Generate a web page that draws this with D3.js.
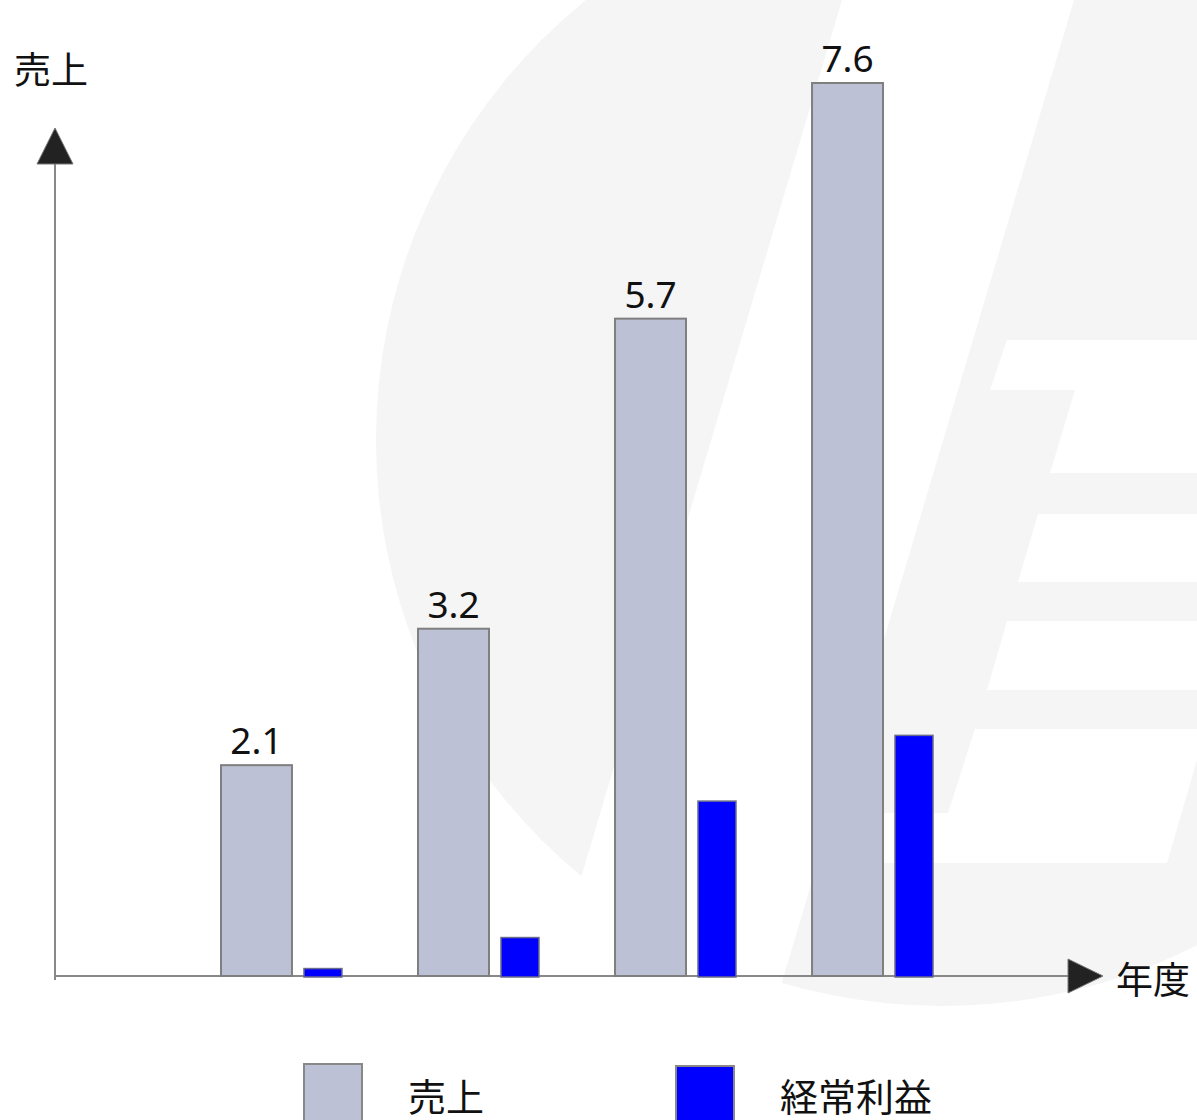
<!DOCTYPE html>
<html>
<head>
<meta charset="utf-8">
<script src="https://cdn.jsdelivr.net/npm/d3@7"></script>
<style>
  body { margin: 0; background: #fff; }
  .jp { font-family: "Noto Sans CJK JP", "Noto Sans", sans-serif; fill: #111; }
  .num { font-family: "Noto Sans", "DejaVu Sans", sans-serif; fill: #111; }
</style>
</head>
<body>
<div id="div"></div>
<script>
const w = 1197;
const h = 1120;

// data
const periods = ["FY1", "FY2", "FY3", "FY4"];
const sales = [2.1, 3.2, 5.7, 7.6];
const profit = [0.46, 0.71, 1.81, 2.34];
const seriesNames = ["売上", "経常利益"];
const colors = ["#bcc1d5", "#0000ff"];

const originX = 55;
const baseY = 976;

let svg = d3.select("#div")
    .append("svg")
    .attr("width", w)
    .attr("height", h);

// faint logo watermark in the background
const wm = svg.append("g").attr("class", "watermark");
wm.append("circle")
    .attr("cx", 942)
    .attr("cy", 440)
    .attr("r", 566)
    .attr("fill", "#f5f5f5");
const cuts = [
    [[848,-20],[1080,-20],[738,1130],[506,1130]],
    [[1007,340],[1210,340],[1210,473],[1050,473],[1075,390],[990,390]],
    [[1038,514],[1210,514],[1210,582],[1018,582]],
    [[1007,621],[1210,621],[1210,690],[987,690]],
    [[975,729],[1206,729],[1167,863],[815,863],[830,813],[948,813]]
];
wm.selectAll("polygon")
    .data(cuts)
    .enter()
    .append("polygon")
    .attr("points", d => d.map(p => p.join(",")).join(" "))
    .attr("fill", "#fff");

// scales
var x = d3.scaleBand()
    .domain(periods)
    .range([221, 933])
    .paddingInner(0.386)
    .paddingOuter(0);

var y = d3.scaleLinear()
    .domain([0.4, 7.6])
    .range([baseY, baseY - 893]);

const grayW = x.bandwidth() * 71 / 121;
const blueOff = x.bandwidth() * 83 / 121;
const blueW = x.bandwidth() * 38 / 121;

// axes
svg.append("line")
    .attr("x1", originX).attr("x2", originX)
    .attr("y1", baseY + 4).attr("y2", 160)
    .attr("stroke", "#888").attr("stroke-width", 2);
svg.append("line")
    .attr("x1", originX).attr("x2", 1070)
    .attr("y1", baseY).attr("y2", baseY)
    .attr("stroke", "#888").attr("stroke-width", 2);
svg.append("path")
    .attr("d", "M" + (originX - 18) + ",164 L" + originX + ",128 L" + (originX + 18) + ",164 Z")
    .attr("fill", "#222").attr("stroke", "#777").attr("stroke-width", 1);
svg.append("path")
    .attr("d", "M1068," + (baseY - 17) + " L1103," + baseY + " L1068," + (baseY + 17) + " Z")
    .attr("fill", "#222").attr("stroke", "#777").attr("stroke-width", 1);

svg.append("text")
    .attr("class", "jp")
    .attr("x", 14)
    .attr("y", 68)
    .attr("dominant-baseline", "central")
    .attr("font-size", 37)
    .text("売上");

svg.append("text")
    .attr("class", "jp")
    .attr("x", 1116)
    .attr("y", 978)
    .attr("dominant-baseline", "central")
    .attr("font-size", 37)
    .text("年度");

// sales bars
svg.selectAll(".sales")
    .data(sales)
    .enter()
    .append("rect")
    .attr("class", "sales")
    .attr("x", (d, i) => x(periods[i]))
    .attr("y", d => y(d))
    .attr("width", grayW)
    .attr("height", d => baseY - y(d))
    .attr("fill", colors[0])
    .attr("stroke", "#7f7f7f")
    .attr("stroke-width", 2);

svg.selectAll(".salesLabel")
    .data(sales)
    .enter()
    .append("text")
    .attr("class", "num")
    .attr("text-anchor", "middle")
    .attr("font-size", 37)
    .attr("x", (d, i) => x(periods[i]) + grayW / 2)
    .attr("y", d => y(d) - 11)
    .text(d => d.toFixed(1));

// profit bars
svg.selectAll(".profit")
    .data(profit)
    .enter()
    .append("rect")
    .attr("class", "profit")
    .attr("x", (d, i) => x(periods[i]) + blueOff)
    .attr("y", d => y(d))
    .attr("width", blueW)
    .attr("height", d => baseY + 1 - y(d))
    .attr("fill", colors[1])
    .attr("stroke", "#6a6a8a")
    .attr("stroke-width", 1.5);

// legend
const legendX = [304, 676];
seriesNames.forEach(function(name, i) {
    svg.append("rect")
        .attr("x", legendX[i])
        .attr("y", 1064 + i * 2)
        .attr("width", 58)
        .attr("height", 70)
        .attr("fill", colors[i])
        .attr("stroke", "#888")
        .attr("stroke-width", 2);
    svg.append("text")
        .attr("class", "jp")
        .attr("x", legendX[i] + 104)
        .attr("y", 1094)
        .attr("dominant-baseline", "central")
        .attr("font-size", 38)
        .text(name);
});
</script>
</body>
</html>
